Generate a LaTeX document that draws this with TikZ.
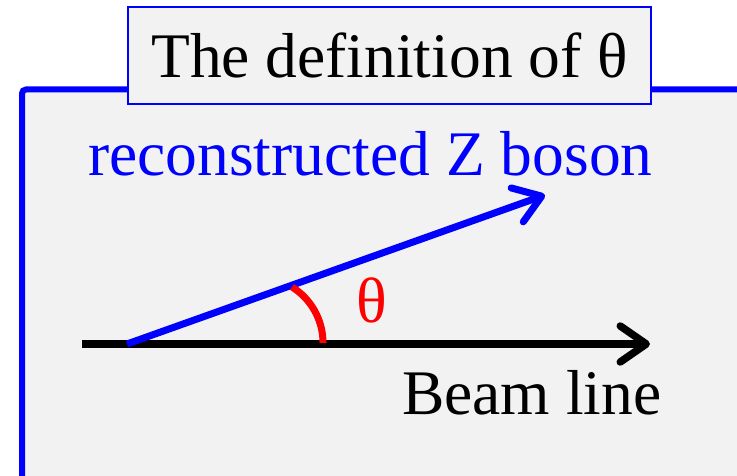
\documentclass[tikz,border=0pt]{standalone}
\usepackage{fontspec}
\setmainfont{Liberation Serif}
\usetikzlibrary{arrows.meta}
\definecolor{panel}{RGB}{242,242,242}
\definecolor{zblue}{RGB}{0,0,255}
\definecolor{angred}{RGB}{255,0,0}

\begin{document}
\begin{tikzpicture}[x=1pt,y=1pt,label/.style={inner sep=0pt,font=\fontsize{63.5}{70}\selectfont},arrow/.style={-{Straight Barb[length=26pt,width=36pt,round]},line width=7.5pt}]
\useasboundingbox (0,0) rectangle (737,476);
\draw[draw=zblue,fill=panel,line width=6pt,rounded corners=4pt] (22,386.5) rectangle (770,-30);
\node[draw=zblue,fill=panel,line width=1.5pt,minimum width=523pt,minimum height=97pt,inner sep=0pt,font=\fontsize{63.5}{70}\selectfont] (title) at (389.5,420.5) {The definition of θ};
\node[label,text=zblue,anchor=base west] (zlabel) at (88,300) {reconstructed Z boson};
\node[label,anchor=base west] (beam) at (402,61) {Beam line};
\node[label,text=angred,font=\fontsize{64}{70}\selectfont,anchor=base] (theta) at (372,153) {θ};
\coordinate (origin) at (127,132);
\coordinate (beamend) at (650,132);
\coordinate (zend) at (545,281);
\draw[arrow] (82,132)--(beamend);
\draw[arrow,draw=zblue,line width=7pt] (origin)--(zend);
\draw[angred,line width=7pt] (292,189) arc[start angle=58,end angle=0,radius=66pt];
\end{tikzpicture}
\end{document}
